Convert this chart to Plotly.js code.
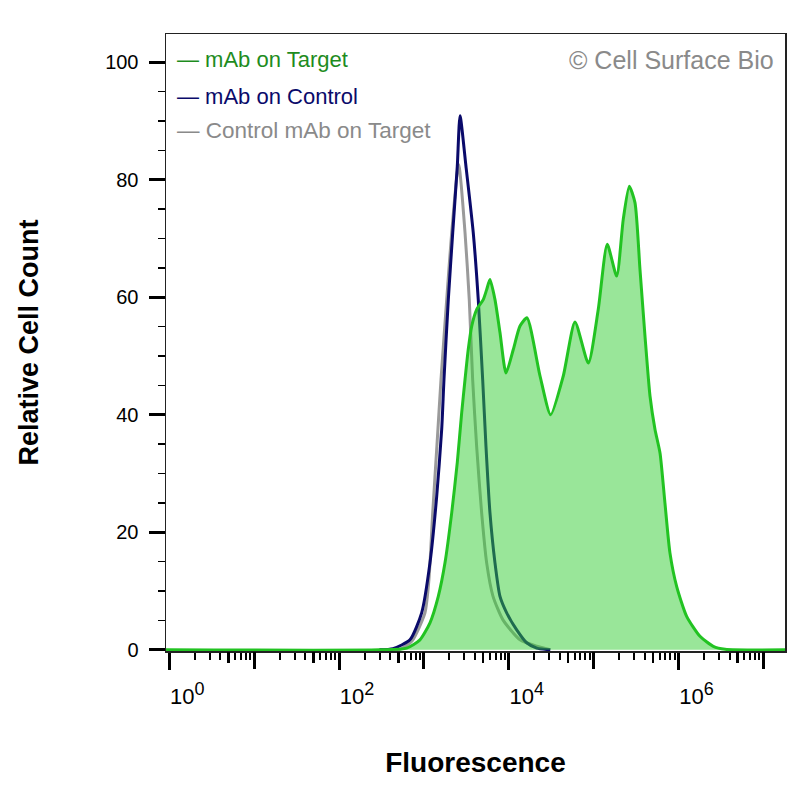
<!DOCTYPE html>
<html>
<head>
<meta charset="utf-8">
<script src="https://cdn.plot.ly/plotly-3.0.1.min.js"></script>
<style>html,body{margin:0;padding:0;background:#fff;}#chart{width:800px;height:800px;}</style>
</head>
<body>
<div id="chart"></div>
<script>
// Series names
const seriesNames = ["mAb on Target", "mAb on Control", "Control mAb on Target"];

// mAb on Target (green, filled)
const targetX = [0.8, 300, 627, 899, 1180, 1479, 1774, 2128, 2477, 2793, 3055, 3334, 3664, 4188, 5012, 5495, 6012, 6887, 7889, 9290, 11320, 13580, 16410, 23390, 31190, 43950, 60400, 86700, 113500, 144900, 187100, 223900, 263600, 307600, 352400, 403600, 462400, 529700, 606700, 693400, 794300, 952800, 1250000, 1795000, 2576000, 3548000, 20000000];
const targetY = [0, 0, 0.3, 1.7, 4.6, 9.1, 14.8, 23.3, 31.9, 40.4, 46, 51.1, 55.1, 57.9, 59.6, 61.3, 63.0, 59.6, 54, 47.1, 51.1, 55.1, 56.5, 46.6, 40.0, 46.6, 55.8, 48.8, 57.9, 69.0, 63.6, 73.3, 78.9, 76.1, 64.7, 53.4, 43.2, 37.5, 33.5, 25.0, 16.5, 10.8, 5.7, 2.3, 0.6, 0.1, 0];

// mAb on Control (navy)
const controlX = [300, 432.5, 685.5, 941.9, 1180, 1416, 1622, 1726, 1941, 2188, 2477, 2667, 3133, 3819, 4375, 4932, 5395, 6012, 6887, 7889, 9462, 12420, 16290, 21380, 30900];
const controlY = [0, 0.2, 1.7, 6.3, 14.8, 26.1, 37.5, 46, 59.6, 71, 82.3, 90.9, 82.3, 71, 59.6, 46, 34.6, 23.3, 14.8, 9.1, 6.3, 3.4, 1.2, 0.3, 0];

// Control mAb on Target (gray)
const isoX = [300, 523.6, 724.4, 1030, 1148, 1271, 1429, 1592, 1858, 2128, 2570, 3055, 3428, 3758, 4188, 4797, 5495, 6531, 8551, 13580, 21380, 30900];
const isoY = [0, 0.1, 1.5, 6.3, 12, 23.3, 35, 46, 59.6, 71, 82.6, 71, 59.6, 46, 34.6, 23.3, 14.8, 9.1, 5.1, 1.7, 0.6, 0];

// Axis ticks
const xLabelVals = [1, 100, 10000, 1000000];
const xLabelExp = ["0", "2", "4", "6"];
const xOddDecades = [10, 1000, 100000, 10000000];
const xMinorVals = [2,3,4,6,7,8,9, 20,30,40,60,70,80,90, 200,300,400,600,700,800,900, 2000,3000,4000,6000,7000,8000,9000, 20000,30000,40000,60000,70000,80000,90000, 200000,300000,400000,600000,700000,800000,900000, 2000000,3000000,4000000,6000000,7000000,8000000,9000000];
const xMidVals = [5, 50, 500, 5000, 50000, 500000, 5000000];
const yMajorVals = [0, 20, 40, 60, 80, 100];

const FONT = "Liberation Sans, Arial, Helvetica, sans-serif";
const xLabelText = xLabelExp.map(e => "10<sup><span style='font-size:18px'>" + e + "</span></sup>");

const ghost = (ax) => ({x: [1000], y: [0], xaxis: ax, type: "scatter", mode: "markers", marker: {opacity: 0}, showlegend: false, hoverinfo: "skip"});

const traces = [
  {x: isoX, y: isoY, name: seriesNames[2], type: "scatter", mode: "lines",
   line: {color: "#9a9a9a", width: 3, shape: "spline", smoothing: 0.6}, showlegend: false, hoverinfo: "skip"},
  {x: controlX, y: controlY, name: seriesNames[1], type: "scatter", mode: "lines",
   line: {color: "#0a0a6a", width: 3, shape: "spline", smoothing: 0.6}, showlegend: false, hoverinfo: "skip"},
  {x: targetX, y: targetY, name: seriesNames[0], type: "scatter", mode: "lines",
   fill: "tozeroy", fillcolor: "rgba(52,206,52,0.5)",
   line: {color: "#22c322", width: 3, shape: "spline", smoothing: 0.6}, showlegend: false, hoverinfo: "skip"},
  ghost("x2"), ghost("x3")
];

const xr = [-0.039, 7.256];

const layout = {
  width: 800, height: 800,
  paper_bgcolor: "#ffffff", plot_bgcolor: "#ffffff",
  margin: {l: 166, r: 15, t: 34, b: 149},
  font: {family: FONT, color: "#000"},
  showlegend: false,
  xaxis: {
    type: "log", range: xr, autorange: false,
    tickmode: "array", tickvals: xLabelVals, ticktext: xLabelText,
    ticks: "outside", ticklen: 17, tickwidth: 3, tickcolor: "#000",
    ticklabelshift: 18, ticklabelstandoff: 8,
    tickfont: {size: 22, family: FONT, color: "#000"},
    minor: {tickmode: "array", tickvals: xMinorVals, ticks: "outside", ticklen: 7, tickwidth: 2, tickcolor: "#000", showgrid: false},
    showgrid: false, zeroline: false,
    showline: true, linecolor: "#222", linewidth: 1.5, mirror: true,
    title: {text: "<b>Fluorescence</b>", font: {size: 28, family: FONT, color: "#000"}, standoff: 44},
    automargin: false
  },
  xaxis2: {
    type: "log", range: xr, autorange: false, overlaying: "x", anchor: "y", side: "bottom",
    tickmode: "array", tickvals: xMidVals, ticks: "outside", ticklen: 11, tickwidth: 2.5, tickcolor: "#000",
    showticklabels: false, showgrid: false, zeroline: false, showline: false
  },
  xaxis3: {
    type: "log", range: xr, autorange: false, overlaying: "x", anchor: "y", side: "bottom",
    tickmode: "array", tickvals: xOddDecades, ticks: "outside", ticklen: 17, tickwidth: 3, tickcolor: "#000",
    showticklabels: false, showgrid: false, zeroline: false, showline: false
  },
  yaxis: {
    range: [-0.2, 104.8], autorange: false,
    tickmode: "array", tickvals: yMajorVals,
    ticks: "outside", ticklen: 16, tickwidth: 3, tickcolor: "#000",
    ticklabelstandoff: 6,
    tickfont: {size: 20, family: FONT, color: "#000"},
    minor: {dtick: 5, ticks: "outside", ticklen: 7, tickwidth: 1.5, tickcolor: "#000", showgrid: false},
    showgrid: false, zeroline: false,
    showline: true, linecolor: "#222", linewidth: 1.5, mirror: true,
    title: {text: "<b>Relative Cell Count</b>", font: {size: 27, family: FONT, color: "#000"}, standoff: 58},
    automargin: false
  },
  annotations: [
    {xref: "paper", yref: "paper", x: 0.0145, y: 0.958, xanchor: "left", yanchor: "middle", showarrow: false,
     text: "— " + seriesNames[0], font: {size: 22, family: FONT, color: "#1e8c1e"}},
    {xref: "paper", yref: "paper", x: 0.0145, y: 0.8995, xanchor: "left", yanchor: "middle", showarrow: false,
     text: "— " + seriesNames[1], font: {size: 22, family: FONT, color: "#0a0a6a"}},
    {xref: "paper", yref: "paper", x: 0.0145, y: 0.8444, xanchor: "left", yanchor: "middle", showarrow: false,
     text: "— " + seriesNames[2], font: {size: 22.5, family: FONT, color: "#8a8a8a"}},
    {xref: "paper", yref: "paper", x: 0.985, y: 0.958, xanchor: "right", yanchor: "middle", showarrow: false,
     text: "© Cell Surface Bio", font: {size: 25, family: FONT, color: "#8a8a8a"}}
  ]
};

Plotly.newPlot("chart", traces, layout, {staticPlot: true, displayModeBar: false});
</script>
</body>
</html>
